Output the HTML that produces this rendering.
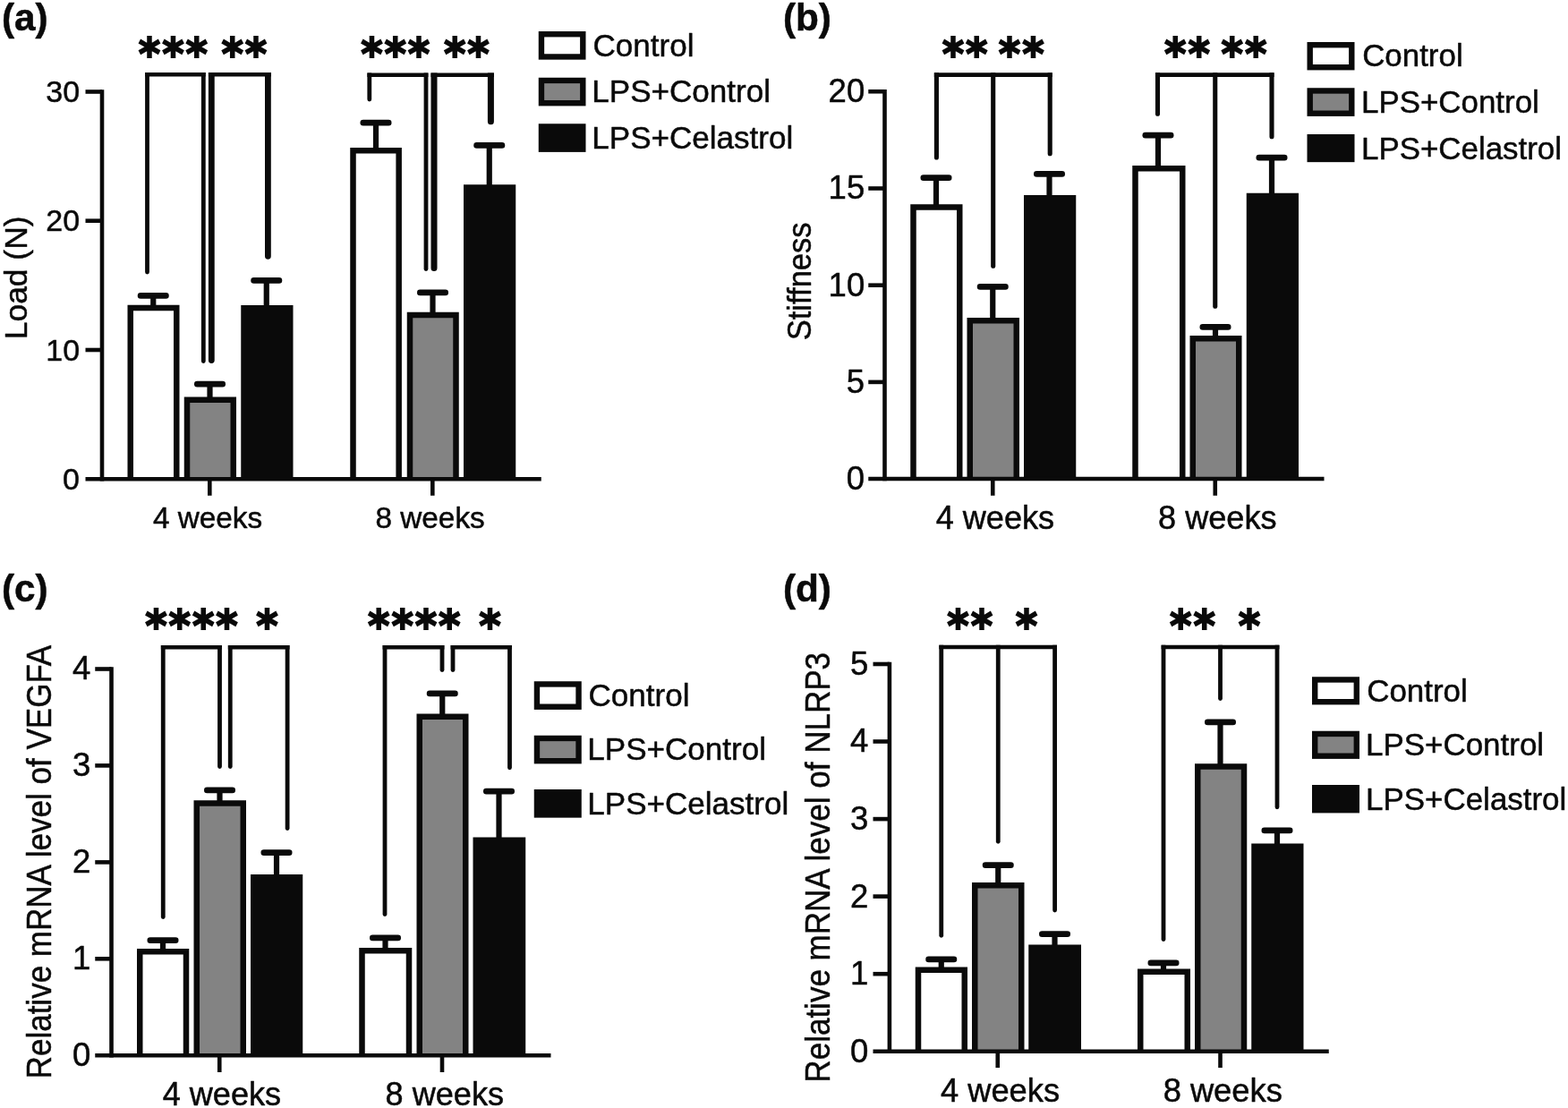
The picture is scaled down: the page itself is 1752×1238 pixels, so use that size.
<!DOCTYPE html>
<html lang="en">
<head>
<meta charset="utf-8">
<title>Figure: load, stiffness, VEGFA and NLRP3 bar charts</title>
<style>
html,body{margin:0;padding:0;background:#ffffff;}
body{width:1752px;height:1238px;overflow:hidden;}
figure{margin:0;padding:0;width:1752px;height:1238px;}
svg{display:block;}
svg text{font-family:"Liberation Sans",sans-serif;fill:#0a0a0a;stroke:#0a0a0a;stroke-width:0.5px;stroke-linejoin:round;}
svg text.st{font-family:"DejaVu Sans","Liberation Sans",sans-serif;font-weight:bold;stroke:#0a0a0a;stroke-linejoin:miter;}
</style>
</head>
<body>
<figure>
<svg width="1752" height="1238" viewBox="0 0 1752 1238" stroke="#0a0a0a" fill="none">
<rect x="0" y="0" width="1752" height="1238" fill="#ffffff" stroke="none"/>
<line x1="171.25" y1="330.4" x2="171.25" y2="343.75" stroke-width="6.2" stroke-linecap="butt"/>
<line x1="157.05" y1="330.4" x2="185.45" y2="330.4" stroke-width="6.6" stroke-linecap="round"/>
<line x1="234.5" y1="429.15" x2="234.5" y2="446.5" stroke-width="6.2" stroke-linecap="butt"/>
<line x1="220.3" y1="429.15" x2="248.7" y2="429.15" stroke-width="6.6" stroke-linecap="round"/>
<line x1="297.75" y1="313.4" x2="297.75" y2="344" stroke-width="6.2" stroke-linecap="butt"/>
<line x1="283.55" y1="313.4" x2="311.95" y2="313.4" stroke-width="6.6" stroke-linecap="round"/>
<line x1="420" y1="137.15" x2="420" y2="168" stroke-width="6.2" stroke-linecap="butt"/>
<line x1="405.8" y1="137.15" x2="434.2" y2="137.15" stroke-width="6.6" stroke-linecap="round"/>
<line x1="483.5" y1="326.9" x2="483.5" y2="351.75" stroke-width="6.2" stroke-linecap="butt"/>
<line x1="469.3" y1="326.9" x2="497.7" y2="326.9" stroke-width="6.6" stroke-linecap="round"/>
<line x1="546.75" y1="162.4" x2="546.75" y2="209.25" stroke-width="6.2" stroke-linecap="butt"/>
<line x1="532.55" y1="162.4" x2="560.95" y2="162.4" stroke-width="6.6" stroke-linecap="round"/>
<path d="M145.75 535.2 V344 H197.25 V535.2" fill="#ffffff" stroke-width="6.5" stroke-linejoin="miter"/>
<path d="M209 535.2 V446.75 H260.75 V535.2" fill="#838383" stroke-width="6.5" stroke-linejoin="miter"/>
<rect x="269.25" y="341" width="58.25" height="194.2" fill="#0a0a0a" stroke="none"/>
<path d="M394.5 535.2 V168.25 H445.65 V535.2" fill="#ffffff" stroke-width="6.5" stroke-linejoin="miter"/>
<path d="M458 535.2 V352 H509.5 V535.2" fill="#838383" stroke-width="6.5" stroke-linejoin="miter"/>
<rect x="518" y="206.25" width="58.25" height="328.95" fill="#0a0a0a" stroke="none"/>
<line x1="114" y1="100.2" x2="114" y2="537.5" stroke-width="4.6" stroke-linecap="butt"/>
<line x1="95.5" y1="102.5" x2="114" y2="102.5" stroke-width="4.6" stroke-linecap="butt"/>
<text transform="translate(51.23 114.19)" font-size="34">30</text>
<line x1="95.5" y1="246.7" x2="114" y2="246.7" stroke-width="4.6" stroke-linecap="butt"/>
<text transform="translate(51.23 258.39)" font-size="34">20</text>
<line x1="95.5" y1="391" x2="114" y2="391" stroke-width="4.6" stroke-linecap="butt"/>
<text transform="translate(51.23 402.69)" font-size="34">10</text>
<text transform="translate(70.11 546.89)" font-size="34">0</text>
<line x1="95.5" y1="535.2" x2="604.75" y2="535.2" stroke-width="4.6" stroke-linecap="butt"/>
<line x1="234.3" y1="535.2" x2="234.3" y2="553.75" stroke-width="4.6" stroke-linecap="butt"/>
<line x1="483.3" y1="535.2" x2="483.3" y2="553.75" stroke-width="4.6" stroke-linecap="butt"/>
<line x1="162.1" y1="83.2" x2="229.7" y2="83.2" stroke-width="4.4" stroke-linecap="butt"/>
<path d="M162.1 81 H166.9 V304.1 A2.4 2.4 0 0 1 162.1 304.1 Z" fill="#0a0a0a" stroke="none"/>
<path d="M224.9 81 H229.7 V403.6 A2.4 2.4 0 0 1 224.9 403.6 Z" fill="#0a0a0a" stroke="none"/>
<line x1="232.9" y1="83.2" x2="302.8" y2="83.2" stroke-width="4.4" stroke-linecap="butt"/>
<path d="M232.9 81 H239.7 V402.6 A3.4 3.4 0 0 1 232.9 402.6 Z" fill="#0a0a0a" stroke="none"/>
<path d="M296 81 H302.8 V286.35 A3.4 3.4 0 0 1 296 286.35 Z" fill="#0a0a0a" stroke="none"/>
<line x1="410.4" y1="83.8" x2="478.4" y2="83.8" stroke-width="4.4" stroke-linecap="butt"/>
<path d="M410.4 81.6 H415.2 V111.1 A2.4 2.4 0 0 1 410.4 111.1 Z" fill="#0a0a0a" stroke="none"/>
<path d="M473.6 81.6 H478.4 V300.6 A2.4 2.4 0 0 1 473.6 300.6 Z" fill="#0a0a0a" stroke="none"/>
<line x1="481.5" y1="83.8" x2="551.9" y2="83.8" stroke-width="4.4" stroke-linecap="butt"/>
<path d="M481.5 81.6 H488.5 V299.5 A3.5 3.5 0 0 1 481.5 299.5 Z" fill="#0a0a0a" stroke="none"/>
<path d="M544.9 81.6 H551.9 V135.75 A3.5 3.5 0 0 1 544.9 135.75 Z" fill="#0a0a0a" stroke="none"/>
<text class="st" transform="translate(154.87 77.9) scale(0.9350 1)" x="0 28.13 56.26" font-size="50" style="stroke-width:1.8px">***</text>
<text class="st" transform="translate(247.47 77.9) scale(0.9350 1)" x="0 28.13" font-size="50" style="stroke-width:1.8px">**</text>
<text class="st" transform="translate(403.17 77.9) scale(0.9350 1)" x="0 28.13 56.26" font-size="50" style="stroke-width:1.8px">***</text>
<text class="st" transform="translate(496.02 77.9) scale(0.9350 1)" x="0 28.13" font-size="50" style="stroke-width:1.8px">**</text>
<rect x="604.95" y="38.2" width="46.35" height="25.25" fill="#ffffff" stroke-width="6.4"/>
<rect x="604.95" y="89.95" width="46.35" height="25.25" fill="#838383" stroke-width="6.4"/>
<rect x="601.75" y="138.25" width="52.75" height="31.65" fill="#0a0a0a" stroke="none"/>
<text transform="translate(662.45 62.5)" font-size="35.05">Control</text>
<text transform="translate(661.31 114.2)" font-size="35.05">LPS+Control</text>
<text transform="translate(661.31 165.8)" font-size="35.05">LPS+Celastrol</text>
<text transform="translate(29.6 379.21) rotate(-90)" font-size="35.4">Load (N)</text>
<text transform="translate(171 590)" font-size="33.3">4 weeks</text>
<text transform="translate(419.54 590)" font-size="33.3">8 weeks</text>
<text transform="translate(1.98 33.5)" font-size="42.3" font-weight="bold">(a)</text>
<line x1="1046" y1="198.65" x2="1046" y2="231.25" stroke-width="6.2" stroke-linecap="butt"/>
<line x1="1031.8" y1="198.65" x2="1060.2" y2="198.65" stroke-width="6.6" stroke-linecap="round"/>
<line x1="1109.25" y1="320.4" x2="1109.25" y2="358" stroke-width="6.2" stroke-linecap="butt"/>
<line x1="1095.05" y1="320.4" x2="1123.45" y2="320.4" stroke-width="6.6" stroke-linecap="round"/>
<line x1="1172.5" y1="194.4" x2="1172.5" y2="221" stroke-width="6.2" stroke-linecap="butt"/>
<line x1="1158.3" y1="194.4" x2="1186.7" y2="194.4" stroke-width="6.6" stroke-linecap="round"/>
<line x1="1294" y1="151.15" x2="1294" y2="188" stroke-width="6.2" stroke-linecap="butt"/>
<line x1="1279.8" y1="151.15" x2="1308.2" y2="151.15" stroke-width="6.6" stroke-linecap="round"/>
<line x1="1358" y1="365.4" x2="1358" y2="378" stroke-width="6.2" stroke-linecap="butt"/>
<line x1="1343.8" y1="365.4" x2="1372.2" y2="365.4" stroke-width="6.6" stroke-linecap="round"/>
<line x1="1421" y1="176.15" x2="1421" y2="218.75" stroke-width="6.2" stroke-linecap="butt"/>
<line x1="1406.8" y1="176.15" x2="1435.2" y2="176.15" stroke-width="6.6" stroke-linecap="round"/>
<path d="M1020.5 535 V231.5 H1072.25 V535" fill="#ffffff" stroke-width="6.5" stroke-linejoin="miter"/>
<path d="M1083.75 535 V358.25 H1135.75 V535" fill="#838383" stroke-width="6.5" stroke-linejoin="miter"/>
<rect x="1144" y="218" width="58.25" height="317" fill="#0a0a0a" stroke="none"/>
<path d="M1268.5 535 V188.25 H1321.25 V535" fill="#ffffff" stroke-width="6.5" stroke-linejoin="miter"/>
<path d="M1332.75 535 V378.25 H1384.25 V535" fill="#838383" stroke-width="6.5" stroke-linejoin="miter"/>
<rect x="1392.75" y="215.75" width="58.25" height="319.25" fill="#0a0a0a" stroke="none"/>
<line x1="988.5" y1="99.95" x2="988.5" y2="537.3" stroke-width="4.6" stroke-linecap="butt"/>
<line x1="970.25" y1="102.25" x2="988.5" y2="102.25" stroke-width="4.6" stroke-linecap="butt"/>
<text transform="translate(925.6 114.2)" font-size="36.5">20</text>
<line x1="970.25" y1="210.5" x2="988.5" y2="210.5" stroke-width="4.6" stroke-linecap="butt"/>
<text transform="translate(925.6 222.45)" font-size="36.5">15</text>
<line x1="970.25" y1="318.7" x2="988.5" y2="318.7" stroke-width="4.6" stroke-linecap="butt"/>
<text transform="translate(925.6 330.65)" font-size="36.5">10</text>
<line x1="970.25" y1="426.9" x2="988.5" y2="426.9" stroke-width="4.6" stroke-linecap="butt"/>
<text transform="translate(945.86 438.85)" font-size="36.5">5</text>
<text transform="translate(945.86 546.95)" font-size="36.5">0</text>
<line x1="970.25" y1="535" x2="1479.5" y2="535" stroke-width="4.6" stroke-linecap="butt"/>
<line x1="1109.25" y1="535" x2="1109.25" y2="553.75" stroke-width="4.6" stroke-linecap="butt"/>
<line x1="1357.75" y1="535" x2="1357.75" y2="553.75" stroke-width="4.6" stroke-linecap="butt"/>
<line x1="1043.85" y1="83.55" x2="1175.75" y2="83.55" stroke-width="4.7" stroke-linecap="butt"/>
<path d="M1043.85 81.2 H1048.95 V175.95 A2.55 2.55 0 0 1 1043.85 175.95 Z" fill="#0a0a0a" stroke="none"/>
<path d="M1170.65 81.2 H1175.75 V171.7 A2.55 2.55 0 0 1 1170.65 171.7 Z" fill="#0a0a0a" stroke="none"/>
<path d="M1107.15 81.2 H1112.25 V297.2 A2.55 2.55 0 0 1 1107.15 297.2 Z" fill="#0a0a0a" stroke="none"/>
<line x1="1290.95" y1="83.55" x2="1423.55" y2="83.55" stroke-width="4.7" stroke-linecap="butt"/>
<path d="M1290.95 81.2 H1296.05 V127.2 A2.55 2.55 0 0 1 1290.95 127.2 Z" fill="#0a0a0a" stroke="none"/>
<path d="M1418.45 81.2 H1423.55 V152.7 A2.55 2.55 0 0 1 1418.45 152.7 Z" fill="#0a0a0a" stroke="none"/>
<path d="M1355.2 81.2 H1360.3 V342.2 A2.55 2.55 0 0 1 1355.2 342.2 Z" fill="#0a0a0a" stroke="none"/>
<text class="st" transform="translate(1052.72 77.9) scale(0.9350 1)" x="0 28.13" font-size="50" style="stroke-width:1.8px">**</text>
<text class="st" transform="translate(1115.87 77.9) scale(0.9350 1)" x="0 28.13" font-size="50" style="stroke-width:1.8px">**</text>
<text class="st" transform="translate(1301.12 77.9) scale(0.9350 1)" x="0 28.13" font-size="50" style="stroke-width:1.8px">**</text>
<text class="st" transform="translate(1364.62 77.9) scale(0.9350 1)" x="0 28.13" font-size="50" style="stroke-width:1.8px">**</text>
<rect x="1463.7" y="50.2" width="46.6" height="25" fill="#ffffff" stroke-width="6.4"/>
<rect x="1463.7" y="101.45" width="46.6" height="25.25" fill="#838383" stroke-width="6.4"/>
<rect x="1460.5" y="150" width="53" height="31.15" fill="#0a0a0a" stroke="none"/>
<text transform="translate(1522.16 74.25)" font-size="34.9">Control</text>
<text transform="translate(1521.02 126.25)" font-size="34.9">LPS+Control</text>
<text transform="translate(1521.02 178)" font-size="34.9">LPS+Celastrol</text>
<text transform="translate(906.3 380.31) rotate(-90) scale(0.9350 1)" font-size="37">Stiffness</text>
<text transform="translate(1045.69 590.5)" font-size="36.1">4 weeks</text>
<text transform="translate(1294.12 590.5)" font-size="36.1">8 weeks</text>
<text transform="translate(874.88 33.5)" font-size="42.3" font-weight="bold">(b)</text>
<line x1="182" y1="1050.65" x2="182" y2="1063" stroke-width="6.2" stroke-linecap="butt"/>
<line x1="167.8" y1="1050.65" x2="196.2" y2="1050.65" stroke-width="6.6" stroke-linecap="round"/>
<line x1="245.5" y1="882.9" x2="245.5" y2="897.25" stroke-width="6.2" stroke-linecap="butt"/>
<line x1="231.3" y1="882.9" x2="259.7" y2="882.9" stroke-width="6.6" stroke-linecap="round"/>
<line x1="309" y1="952.65" x2="309" y2="980" stroke-width="6.2" stroke-linecap="butt"/>
<line x1="294.8" y1="952.65" x2="323.2" y2="952.65" stroke-width="6.6" stroke-linecap="round"/>
<line x1="430.5" y1="1047.9" x2="430.5" y2="1062" stroke-width="6.2" stroke-linecap="butt"/>
<line x1="416.3" y1="1047.9" x2="444.7" y2="1047.9" stroke-width="6.6" stroke-linecap="round"/>
<line x1="494.25" y1="774.9" x2="494.25" y2="800.5" stroke-width="6.2" stroke-linecap="butt"/>
<line x1="480.05" y1="774.9" x2="508.45" y2="774.9" stroke-width="6.6" stroke-linecap="round"/>
<line x1="557.5" y1="884.15" x2="557.5" y2="938.5" stroke-width="6.2" stroke-linecap="butt"/>
<line x1="543.3" y1="884.15" x2="571.7" y2="884.15" stroke-width="6.6" stroke-linecap="round"/>
<path d="M156.25 1179.25 V1063.25 H208 V1179.25" fill="#ffffff" stroke-width="6.5" stroke-linejoin="miter"/>
<path d="M219.75 1179.25 V897.5 H271.75 V1179.25" fill="#838383" stroke-width="6.5" stroke-linejoin="miter"/>
<rect x="280" y="977" width="58.25" height="202.25" fill="#0a0a0a" stroke="none"/>
<path d="M404.5 1179.25 V1062.25 H457 V1179.25" fill="#ffffff" stroke-width="6.5" stroke-linejoin="miter"/>
<path d="M468.75 1179.25 V800.75 H520.25 V1179.25" fill="#838383" stroke-width="6.5" stroke-linejoin="miter"/>
<rect x="528.5" y="935.5" width="58.75" height="243.75" fill="#0a0a0a" stroke="none"/>
<line x1="124.5" y1="745.2" x2="124.5" y2="1181.55" stroke-width="4.6" stroke-linecap="butt"/>
<line x1="106.25" y1="747.5" x2="124.5" y2="747.5" stroke-width="4.6" stroke-linecap="butt"/>
<text transform="translate(81.11 759.25)" font-size="36.5">4</text>
<line x1="106.25" y1="855.4" x2="124.5" y2="855.4" stroke-width="4.6" stroke-linecap="butt"/>
<text transform="translate(81.11 867.15)" font-size="36.5">3</text>
<line x1="106.25" y1="963.4" x2="124.5" y2="963.4" stroke-width="4.6" stroke-linecap="butt"/>
<text transform="translate(81.11 975.15)" font-size="36.5">2</text>
<line x1="106.25" y1="1071.3" x2="124.5" y2="1071.3" stroke-width="4.6" stroke-linecap="butt"/>
<text transform="translate(81.11 1083.05)" font-size="36.5">1</text>
<text transform="translate(81.11 1191)" font-size="36.5">0</text>
<line x1="106.25" y1="1179.25" x2="615.5" y2="1179.25" stroke-width="4.6" stroke-linecap="butt"/>
<line x1="245.25" y1="1179.25" x2="245.25" y2="1198" stroke-width="4.6" stroke-linecap="butt"/>
<line x1="494" y1="1179.25" x2="494" y2="1198" stroke-width="4.6" stroke-linecap="butt"/>
<line x1="179.85" y1="723.3" x2="247.9" y2="723.3" stroke-width="4.4" stroke-linecap="butt"/>
<path d="M179.85 721.1 H184.65 V1024.6 A2.4 2.4 0 0 1 179.85 1024.6 Z" fill="#0a0a0a" stroke="none"/>
<path d="M243.1 721.1 H247.9 V856.6 A2.4 2.4 0 0 1 243.1 856.6 Z" fill="#0a0a0a" stroke="none"/>
<line x1="254.85" y1="723.3" x2="323.5" y2="723.3" stroke-width="4.4" stroke-linecap="butt"/>
<path d="M254.85 721.1 H259.65 V856.6 A2.4 2.4 0 0 1 254.85 856.6 Z" fill="#0a0a0a" stroke="none"/>
<path d="M318.7 721.1 H323.5 V925.6 A2.4 2.4 0 0 1 318.7 925.6 Z" fill="#0a0a0a" stroke="none"/>
<line x1="427.6" y1="723.3" x2="496.4" y2="723.3" stroke-width="4.4" stroke-linecap="butt"/>
<path d="M427.6 721.1 H432.4 V1021.6 A2.4 2.4 0 0 1 427.6 1021.6 Z" fill="#0a0a0a" stroke="none"/>
<path d="M491.6 721.1 H496.4 V748.6 A2.4 2.4 0 0 1 491.6 748.6 Z" fill="#0a0a0a" stroke="none"/>
<line x1="503.6" y1="723.3" x2="571.9" y2="723.3" stroke-width="4.4" stroke-linecap="butt"/>
<path d="M503.6 721.1 H508.4 V748.6 A2.4 2.4 0 0 1 503.6 748.6 Z" fill="#0a0a0a" stroke="none"/>
<path d="M567.1 721.1 H571.9 V857.85 A2.4 2.4 0 0 1 567.1 857.85 Z" fill="#0a0a0a" stroke="none"/>
<text class="st" transform="translate(162.32 717.4) scale(0.9350 1)" x="0 28.13 56.26 84.39" font-size="50" style="stroke-width:1.8px">****</text>
<text class="st" transform="translate(286.27 717.4) scale(0.9350 1)" x="0" font-size="50" style="stroke-width:1.8px">*</text>
<text class="st" transform="translate(411.12 717.4) scale(0.9350 1)" x="0 28.13 56.26 84.39" font-size="50" style="stroke-width:1.8px">****</text>
<text class="st" transform="translate(535.37 717.4) scale(0.9350 1)" x="0" font-size="50" style="stroke-width:1.8px">*</text>
<rect x="599.95" y="764.45" width="46.6" height="25.25" fill="#ffffff" stroke-width="6.4"/>
<rect x="599.95" y="824.95" width="46.6" height="25.25" fill="#838383" stroke-width="6.4"/>
<rect x="596.75" y="882" width="53" height="31.65" fill="#0a0a0a" stroke="none"/>
<text transform="translate(657.45 788.75)" font-size="35.05">Control</text>
<text transform="translate(656.31 849.25)" font-size="35.05">LPS+Control</text>
<text transform="translate(656.31 910)" font-size="35.05">LPS+Celastrol</text>
<text transform="translate(56.5 1205.39) rotate(-90) scale(0.9220 1)" font-size="38">Relative mRNA level of VEGFA</text>
<text transform="translate(181.69 1234.8)" font-size="36.1">4 weeks</text>
<text transform="translate(430.62 1234.8)" font-size="36.1">8 weeks</text>
<text transform="translate(1.98 672)" font-size="42.3" font-weight="bold">(c)</text>
<line x1="1051.75" y1="1071.9" x2="1051.75" y2="1083.5" stroke-width="6.2" stroke-linecap="butt"/>
<line x1="1037.55" y1="1071.9" x2="1065.95" y2="1071.9" stroke-width="6.6" stroke-linecap="round"/>
<line x1="1115.25" y1="966.65" x2="1115.25" y2="989" stroke-width="6.2" stroke-linecap="butt"/>
<line x1="1101.05" y1="966.65" x2="1129.45" y2="966.65" stroke-width="6.6" stroke-linecap="round"/>
<line x1="1178.5" y1="1043.65" x2="1178.5" y2="1058.5" stroke-width="6.2" stroke-linecap="butt"/>
<line x1="1164.3" y1="1043.65" x2="1192.7" y2="1043.65" stroke-width="6.6" stroke-linecap="round"/>
<line x1="1300" y1="1075.9" x2="1300" y2="1085.5" stroke-width="6.2" stroke-linecap="butt"/>
<line x1="1285.8" y1="1075.9" x2="1314.2" y2="1075.9" stroke-width="6.6" stroke-linecap="round"/>
<line x1="1363.5" y1="806.9" x2="1363.5" y2="856.25" stroke-width="6.2" stroke-linecap="butt"/>
<line x1="1349.3" y1="806.9" x2="1377.7" y2="806.9" stroke-width="6.6" stroke-linecap="round"/>
<line x1="1427" y1="927.9" x2="1427" y2="945.5" stroke-width="6.2" stroke-linecap="butt"/>
<line x1="1412.8" y1="927.9" x2="1441.2" y2="927.9" stroke-width="6.6" stroke-linecap="round"/>
<path d="M1026 1174.75 V1083.75 H1077.75 V1174.75" fill="#ffffff" stroke-width="6.5" stroke-linejoin="miter"/>
<path d="M1089.25 1174.75 V989.25 H1141.25 V1174.75" fill="#838383" stroke-width="6.5" stroke-linejoin="miter"/>
<rect x="1149.25" y="1055.5" width="58.75" height="119.25" fill="#0a0a0a" stroke="none"/>
<path d="M1274.25 1174.75 V1085.75 H1326.75 V1174.75" fill="#ffffff" stroke-width="6.5" stroke-linejoin="miter"/>
<path d="M1338.25 1174.75 V856.5 H1390 V1174.75" fill="#838383" stroke-width="6.5" stroke-linejoin="miter"/>
<rect x="1398.25" y="942.5" width="58.25" height="232.25" fill="#0a0a0a" stroke="none"/>
<line x1="993.9" y1="739.7" x2="993.9" y2="1177.05" stroke-width="4.6" stroke-linecap="butt"/>
<line x1="975.5" y1="742" x2="993.9" y2="742" stroke-width="4.6" stroke-linecap="butt"/>
<text transform="translate(950.11 753.95)" font-size="36.5">5</text>
<line x1="975.5" y1="828.5" x2="993.9" y2="828.5" stroke-width="4.6" stroke-linecap="butt"/>
<text transform="translate(950.11 840.45)" font-size="36.5">4</text>
<line x1="975.5" y1="915.1" x2="993.9" y2="915.1" stroke-width="4.6" stroke-linecap="butt"/>
<text transform="translate(950.11 927.05)" font-size="36.5">3</text>
<line x1="975.5" y1="1001.6" x2="993.9" y2="1001.6" stroke-width="4.6" stroke-linecap="butt"/>
<text transform="translate(950.11 1013.55)" font-size="36.5">2</text>
<line x1="975.5" y1="1088.2" x2="993.9" y2="1088.2" stroke-width="4.6" stroke-linecap="butt"/>
<text transform="translate(950.11 1100.15)" font-size="36.5">1</text>
<text transform="translate(950.11 1186.7)" font-size="36.5">0</text>
<line x1="975.5" y1="1174.75" x2="1484.75" y2="1174.75" stroke-width="4.6" stroke-linecap="butt"/>
<line x1="1114.75" y1="1174.75" x2="1114.75" y2="1193" stroke-width="4.6" stroke-linecap="butt"/>
<line x1="1363.5" y1="1174.75" x2="1363.5" y2="1193" stroke-width="4.6" stroke-linecap="butt"/>
<line x1="1049.35" y1="723.05" x2="1181" y2="723.05" stroke-width="4.4" stroke-linecap="butt"/>
<path d="M1049.35 720.85 H1054.15 V1045.35 A2.4 2.4 0 0 1 1049.35 1045.35 Z" fill="#0a0a0a" stroke="none"/>
<path d="M1176.2 720.85 H1181 V1017.1 A2.4 2.4 0 0 1 1176.2 1017.1 Z" fill="#0a0a0a" stroke="none"/>
<path d="M1112.85 720.85 H1117.65 V940.35 A2.4 2.4 0 0 1 1112.85 940.35 Z" fill="#0a0a0a" stroke="none"/>
<line x1="1297.6" y1="723.05" x2="1429.4" y2="723.05" stroke-width="4.4" stroke-linecap="butt"/>
<path d="M1297.6 720.85 H1302.4 V1049.6 A2.4 2.4 0 0 1 1297.6 1049.6 Z" fill="#0a0a0a" stroke="none"/>
<path d="M1424.6 720.85 H1429.4 V901.85 A2.4 2.4 0 0 1 1424.6 901.85 Z" fill="#0a0a0a" stroke="none"/>
<path d="M1361.1 720.85 H1365.9 V780.6 A2.4 2.4 0 0 1 1361.1 780.6 Z" fill="#0a0a0a" stroke="none"/>
<text class="st" transform="translate(1058.37 717.4) scale(0.9350 1)" x="0 28.13" font-size="50" style="stroke-width:1.8px">**</text>
<text class="st" transform="translate(1134.77 717.4) scale(0.9350 1)" x="0" font-size="50" style="stroke-width:1.8px">*</text>
<text class="st" transform="translate(1307.12 717.4) scale(0.9350 1)" x="0 28.13" font-size="50" style="stroke-width:1.8px">**</text>
<text class="st" transform="translate(1383.87 717.4) scale(0.9350 1)" x="0" font-size="50" style="stroke-width:1.8px">*</text>
<rect x="1469.2" y="759.45" width="46.6" height="24.75" fill="#ffffff" stroke-width="6.4"/>
<rect x="1469.2" y="819.95" width="46.6" height="24.75" fill="#838383" stroke-width="6.4"/>
<rect x="1466" y="877" width="53" height="31.4" fill="#0a0a0a" stroke="none"/>
<text transform="translate(1527.15 783.75)" font-size="34.95">Control</text>
<text transform="translate(1526.02 844.25)" font-size="34.95">LPS+Control</text>
<text transform="translate(1526.02 905)" font-size="34.95">LPS+Celastrol</text>
<text transform="translate(926.6 1209.64) rotate(-90) scale(0.9220 1)" font-size="38">Relative mRNA level of NLRP3</text>
<text transform="translate(1050.93 1230.6)" font-size="36.3">4 weeks</text>
<text transform="translate(1299.64 1230.6)" font-size="36.3">8 weeks</text>
<text transform="translate(874.88 672)" font-size="42.3" font-weight="bold">(d)</text>
</svg>
</figure>
</body>
</html>
